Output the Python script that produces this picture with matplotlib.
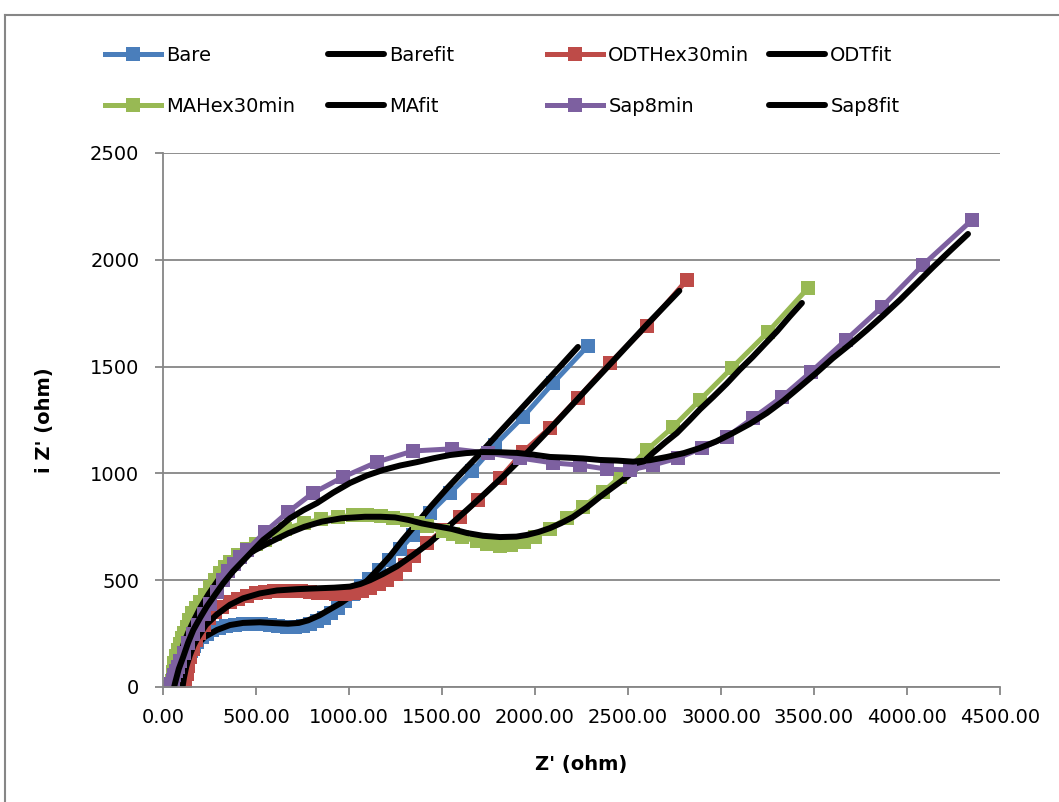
import matplotlib.pyplot as plt
from matplotlib.lines import Line2D

# measured data, Z' / -Z'' in ohm
bare_x = [88, 92, 97, 104, 112, 122, 134, 148, 165, 185, 208, 235, 265, 300, 340, 385, 432, 480,
          528, 575, 620, 665, 708, 750, 790, 828, 865, 902, 940, 980, 1022, 1065, 1110, 1160, 1215,
          1275, 1344, 1435, 1543, 1661, 1785, 1935, 2097, 2285]
bare_y = [0, 18, 40, 65, 90, 116, 142, 167, 190, 212, 232, 250, 265, 277, 286, 292, 295, 295,
          293, 290, 286, 283, 282, 285, 293, 307, 325, 347, 372, 402, 436, 473, 505, 548, 595,
          645, 712, 815, 908, 1010, 1133, 1264, 1423, 1598]

odt_x = [115, 120, 127, 136, 147, 160, 176, 196, 220, 248, 280, 318, 360, 405, 452, 500, 548, 596,
         645, 692, 740, 788, 835, 882, 930, 978, 1025, 1070, 1113, 1160, 1204, 1250, 1300, 1350,
         1419, 1505, 1597, 1694, 1812, 1935, 2080, 2231, 2403, 2602, 2817]
odt_y = [0, 25, 60, 100, 140, 180, 218, 255, 290, 322, 350, 375, 396, 414, 428, 438, 445, 449,
         451, 451, 449, 446, 442, 439, 437, 437, 440, 448, 462, 480, 502, 528, 570, 612,
         674, 735, 796, 875, 978, 1100, 1213, 1353, 1517, 1690, 1906]

ma_x = [45, 50, 54, 60, 70, 81, 92, 102, 115, 129, 142, 156, 176, 199, 225, 253, 280, 306, 333, 360,
        405, 452, 500, 548, 600, 656, 760, 850, 941, 1020, 1097, 1170, 1237, 1312, 1371, 1419, 1505,
        1559, 1607, 1688, 1742, 1812, 1870, 1940, 2000, 2081, 2172, 2258, 2365, 2457, 2602, 2742,
        2887, 3059, 3253, 3468]
ma_y = [0, 30, 70, 112, 145, 173, 200, 229, 255, 281, 315, 346, 372, 398, 432, 468, 502, 534, 560, 585,
        618, 645, 668, 690, 715, 740, 768, 785, 797, 803, 805, 800, 793, 782, 767, 752, 728,
        716, 703, 682, 668, 662, 666, 680, 700, 742, 790, 843, 913, 983, 1110, 1217,
        1344, 1494, 1662, 1868]

sap_x = [40, 45, 52, 60, 70, 81, 93, 112, 136, 162, 190, 220, 252, 289, 320, 350, 380, 415, 452,
         548, 672, 806, 968, 1150, 1344, 1554, 1747, 1919, 2097, 2242, 2387, 2511, 2634, 2769,
         2898, 3032, 3172, 3328, 3484, 3672, 3865, 4086, 4349]
sap_y = [0, 15, 35, 55, 75, 95, 120, 160, 204, 247, 290, 340, 390, 445, 500, 545, 578, 610, 641,
         726, 819, 908, 983, 1053, 1105, 1115, 1095, 1072, 1049, 1039, 1020, 1016, 1039, 1072,
         1119, 1171, 1259, 1358, 1475, 1625, 1779, 1976, 2186]

# fitted curves
barefit_x = [95, 105, 120, 140, 162, 188, 225, 290, 360, 430, 520, 600, 672, 730, 780, 840, 900,
             960, 1005, 1050, 1100, 1160, 1220, 1290, 1366, 1445, 1527, 1608, 1688, 1780, 1870,
             1960, 2050, 2140, 2231]
barefit_y = [0, 45, 95, 140, 180, 203, 235, 267, 290, 300, 303, 299, 296, 300, 312, 335, 365,
             395, 423, 458, 500, 555, 612, 690, 768, 850, 930, 1005, 1077, 1165, 1250,
             1335, 1420, 1505, 1592]

odtfit_x = [105, 113, 125, 145, 165, 183, 230, 290, 360, 430, 520, 613, 720, 828, 920, 1005, 1060,
            1113, 1180, 1258, 1340, 1435, 1530, 1634, 1730, 1828, 1957, 2120, 2279, 2440, 2600, 2776]
odtfit_y = [0, 45, 95, 150, 195, 225, 290, 340, 385, 415, 438, 452, 458, 462, 465, 470, 482,
            500, 528, 565, 615, 676, 748, 829, 905, 985, 1096, 1245, 1395, 1545, 1695, 1855]

mafit_x = [55, 62, 75, 92, 112, 135, 165, 200, 245, 297, 350, 420, 495, 580, 674, 760, 853, 960,
           1086, 1170, 1247, 1320, 1391, 1470, 1552, 1634, 1720, 1812, 1900, 1957, 2020, 2081, 2140,
           2204, 2280, 2349, 2420, 2494, 2564, 2634, 2700, 2763, 2830, 2887, 2960, 3030, 3100,
           3170, 3235, 3301, 3370, 3435]
mafit_y = [0, 40, 95, 150, 205, 255, 310, 370, 435, 501, 552, 600, 641, 680, 720, 750, 774, 790,
           797, 797, 794, 782, 766, 753, 740, 721, 708, 702, 704, 712, 726, 744, 767,
           796, 842, 890, 936, 983, 1038, 1096, 1145, 1189, 1248, 1300, 1360, 1420, 1485,
           1545, 1605, 1665, 1735, 1798]

sapfit_x = [60, 65, 85, 109, 135, 163, 200, 235, 280, 324, 375, 430, 485, 538, 610, 683, 755, 828,
            915, 1005, 1095, 1183, 1275, 1366, 1455, 1543, 1630, 1720, 1810, 1903, 1990, 2081, 2170,
            2258, 2349, 2441, 2527, 2618, 2709, 2800, 2887, 2975, 3064, 3155, 3247, 3335, 3424,
            3512, 3602, 3695, 3785, 3875, 3962, 4050, 4140, 4235, 4328]
sapfit_y = [0, 19, 85, 142, 208, 267, 325, 376, 432, 486, 540, 590, 640, 688, 737, 790, 828, 861,
            910, 955, 990, 1016, 1037, 1053, 1071, 1086, 1095, 1100, 1099, 1096, 1088, 1077, 1074,
            1070, 1063, 1060, 1055, 1062, 1077, 1095, 1119, 1150, 1189, 1232, 1283, 1340, 1405,
            1470, 1540, 1605, 1672, 1742, 1812, 1888, 1966, 2045, 2121]

series = [
    ("Bare", bare_x, bare_y, "#4A7EBB"),
    ("Barefit", barefit_x, barefit_y, None),
    ("ODTHex30min", odt_x, odt_y, "#BE4B48"),
    ("ODTfit", odtfit_x, odtfit_y, None),
    ("MAHex30min", ma_x, ma_y, "#98B954"),
    ("MAfit", mafit_x, mafit_y, None),
    ("Sap8min", sap_x, sap_y, "#7D60A0"),
    ("Sap8fit", sapfit_x, sapfit_y, None),
]

plt.rcParams['font.family'] = 'DejaVu Sans'
W, H = 1059, 802
fig = plt.figure(figsize=(W / 100, H / 100), dpi=100)
ax = fig.add_axes([163 / W, 1 - 687 / H, 837 / W, 534 / H])

grey = "#868686"
handles = {}
for name, xs, ys, col in series:
    if col is None:
        h, = ax.plot(xs, ys, color="black", lw=4.3, solid_capstyle="round", label=name)
    else:
        h, = ax.plot(xs, ys, color=col, lw=3.6, marker="s", markersize=10,
                     markeredgewidth=0, label=name)
    handles[name] = h

ax.set_xlim(0, 4500)
ax.set_ylim(0, 2500)
xt = list(range(0, 4501, 500))
ax.set_xticks(xt)
ax.set_xticklabels([f"{v:.2f}" for v in xt])
ax.set_yticks(range(0, 2501, 500))
ax.tick_params(axis="both", direction="out", length=6, width=1.3, color=grey, labelsize=14)
ax.tick_params(axis="y", pad=11)
ax.tick_params(axis="x", pad=9)
ax.yaxis.grid(True, color=grey, lw=1.3)
ax.set_axisbelow(True)
for s in ("top", "right"):
    ax.spines[s].set_visible(False)
for s in ("left", "bottom"):
    ax.spines[s].set_color(grey)
    ax.spines[s].set_linewidth(1.3)

ax.set_xlabel("Z' (ohm)", fontsize=14, fontweight="bold")
ax.set_ylabel("i Z' (ohm)", fontsize=14, fontweight="bold")
ax.xaxis.set_label_coords(0.5, -0.128)
ax.yaxis.set_label_coords(-0.130, 0.5)

# legend: four columns of two rows, Excel style equal-width columns
cols = [("Bare", "MAHex30min"), ("Barefit", "MAfit"),
        ("ODTHex30min", "Sap8min"), ("ODTfit", "Sap8fit")]
col_x = [105, 328, 547, 769]
for (a, b), x0 in zip(cols, col_x):
    fig.legend([handles[a], handles[b]], [a, b], loc="upper left",
               bbox_to_anchor=(x0 / W, 1 - 46 / H), frameon=False, fontsize=14,
               borderpad=0, borderaxespad=0, handlelength=2.9, handletextpad=0.25,
               labelspacing=1.65, numpoints=1)

# chart area border (cut off at right and bottom)
fig.add_artist(Line2D([5 / W, 5 / W], [0, 1 - 15 / H], color=grey, lw=1.5))
fig.add_artist(Line2D([5 / W, 1], [1 - 15 / H, 1 - 15 / H], color=grey, lw=1.5))

fig.savefig("out.png", dpi=100)
